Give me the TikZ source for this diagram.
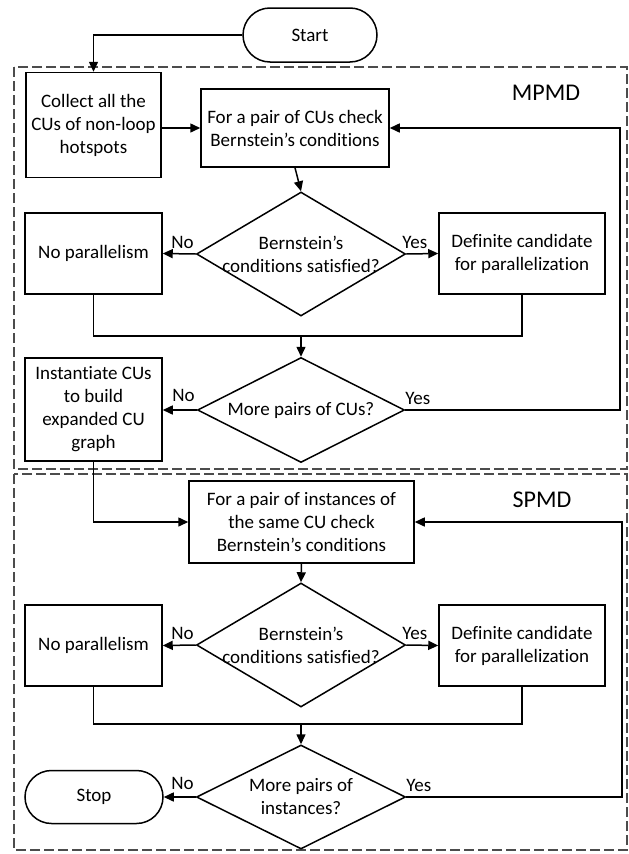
\documentclass[tikz,border=0pt]{standalone}
\usepackage{fontspec}
\setmainfont{Carlito}[Ligatures=NoCommon]
\usetikzlibrary{arrows.meta,shapes.geometric,shapes.misc}
\begin{document}
\begin{tikzpicture}[x=1pt,y=-1pt,
  every node/.style={font=\fontsize{19}{23}\selectfont, align=center, inner sep=0pt},
  proc/.style={draw, line width=1.5pt, rectangle},
  term/.style={draw, line width=1.5pt, rounded rectangle},
  decide/.style={draw, line width=1.5pt, diamond},
  lab/.style={font=\fontsize{19}{23}\selectfont},
  region/.style={draw=black!70, line width=1.4pt, dash pattern=on 10pt off 4pt},
  tag/.style={font=\fontsize{24}{28}\selectfont},
  arr/.style={line width=1.5pt, -{Triangle[length=10pt,width=9pt]}},
  ln/.style={line width=1.5pt}]
\useasboundingbox (0,0) rectangle (629,854);

% dashed regions
\draw[region] (14,67) rectangle (627,469);
\draw[region] (14,474) rectangle (627,850);
\node[tag] (mpmd) at (546,93) {MPMD};
\node[tag] (spmd) at (542,500) {SPMD};

% ---- MPMD part ----
\node[term, minimum width=134, minimum height=54] (start) at (310,35) {Start};
\node[proc, minimum width=135, minimum height=105] (collect) at (93.5,125)
  {Collect all the\\CUs of non-loop\\hotspots};
\node[proc, minimum width=188, minimum height=78] (check1) at (295,128)
  {For a pair of CUs check\\Bernstein’s conditions};
\node[decide, minimum width=209, minimum height=124] (d1) at (301,254) {};
\node (d1t) at (301,254) {Bernstein’s\\conditions satisfied?};
\node[proc, minimum width=137, minimum height=81] (nop1) at (93.5,253.5) {No parallelism};
\node[proc, minimum width=166, minimum height=81] (def1) at (522,253.5)
  {Definite candidate\\for parallelization};
\coordinate (m1) at (301,336);
\node[decide, minimum width=207, minimum height=105] (d2) at (301,410) {};
\node (d2t) at (301,410) {More pairs of CUs?};
\node[proc, minimum width=137, minimum height=103] (inst) at (93.5,409.5)
  {Instantiate CUs\\to build\\expanded CU\\graph};
\coordinate (loopx) at (620,0);

% ---- SPMD part ----
\node[proc, minimum width=225, minimum height=82] (check2) at (301.5,522)
  {For a pair of instances of\\the same CU check\\Bernstein’s conditions};
\node[decide, minimum width=209, minimum height=124] (d3) at (301,645) {};
\node (d3t) at (301,645) {Bernstein’s\\conditions satisfied?};
\node[proc, minimum width=137, minimum height=81] (nop2) at (93.5,645.5) {No parallelism};
\node[proc, minimum width=166, minimum height=81] (def2) at (522,645.5)
  {Definite candidate\\for parallelization};
\coordinate (m2) at (301,724);
\node[decide, minimum width=209, minimum height=104] (d4) at (301,797) {};
\node (d4t) at (301,797) {More pairs of\\instances?};
\node[term, minimum width=138, minimum height=53] (stop) at (94,797) {Stop};
\coordinate (loopy) at (622,0);

% ---- connectors, MPMD ----
\draw[arr] (start.west) -| (collect.north);
\draw[arr] (collect.east |- check1.west) -- (check1.west);
\draw[arr] (check1.south) -- (d1.north);
\draw[arr] (d1.west) -- (nop1.east);
\draw[arr] (d1.east) -- (def1.west);
\node[lab, anchor=south east] (d1no) at ([xshift=-2pt,yshift=5pt]d1.west) {No};
\node[lab, anchor=south west] (d1yes) at ([xshift=-4pt,yshift=5pt]d1.east) {Yes};
\draw[ln] (nop1.south) |- (m1) -| (def1.south);
\draw[arr] (m1) -- (d2.north);
\draw[arr] (d2.west) -- (d2.west -| inst.east);
\draw[arr] (d2.east) -- (d2.east -| loopx) -- (check1.east -| loopx) -- (check1.east);
\node[lab, anchor=south east] (d2no) at ([xshift=-2pt,yshift=8pt]d2.west) {No};
\node[lab, anchor=south west] (d2yes) at ([xshift=0pt,yshift=5pt]d2.east) {Yes};

% ---- connectors, SPMD ----
\draw[arr] (inst.south) |- (check2.west);
\draw[arr] (check2.south) -- (d3.north);
\draw[arr] (d3.west) -- (nop2.east);
\draw[arr] (d3.east) -- (def2.west);
\node[lab, anchor=south east] (d3no) at ([xshift=-2pt,yshift=5pt]d3.west) {No};
\node[lab, anchor=south west] (d3yes) at ([xshift=-4pt,yshift=5pt]d3.east) {Yes};
\draw[ln] (nop2.south) |- (m2) -| (def2.south);
\draw[arr] (m2) -- (d4.north);
\draw[arr] (d4.west) -- (stop.east);
\draw[arr] (d4.east) -- (d4.east -| loopy) -- (check2.east -| loopy) -- (check2.east);
\node[lab, anchor=south east] (d4no) at ([xshift=-2pt,yshift=7pt]d4.west) {No};
\node[lab, anchor=south west] (d4yes) at ([xshift=0pt,yshift=5pt]d4.east) {Yes};
\end{tikzpicture}
\end{document}
